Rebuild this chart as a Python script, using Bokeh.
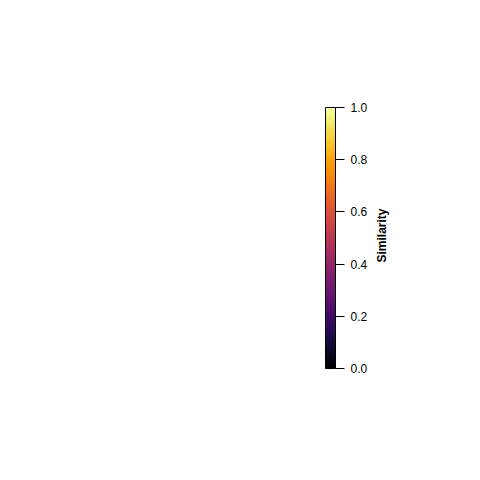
import math
from bokeh.plotting import figure
from bokeh.models import ColorBar, LinearColorMapper, FixedTicker, Range1d
from bokeh.palettes import Inferno256
from bokeh.core.properties import value
from bokeh.embed import file_html
from bokeh.resources import INLINE

# data
scale_low = 0.0
scale_high = 1.0
ticks = [0.0, 0.2, 0.4, 0.6, 0.8, 1.0]
tick_labels = ["0.0", "0.2", "0.4", "0.6", "0.8", "1.0"]
title_text = "Similarity"

p = figure(width=480, height=480, output_backend="svg", toolbar_location=None,
           x_range=Range1d(0, 480), y_range=Range1d(0, 480),
           min_border=0, x_axis_type=None, y_axis_type=None)
p.outline_line_color = None
p.grid.visible = False
p.background_fill_color = "white"
p.border_fill_color = "white"

mapper = LinearColorMapper(palette=Inferno256, low=scale_low, high=scale_high)
cb = ColorBar(color_mapper=mapper, location=(325, 112), width=10, height=261,
              padding=0, margin=0,
              ticker=FixedTicker(ticks=ticks),
              major_label_overrides={t: l for t, l in zip(ticks, tick_labels)},
              major_tick_out=9, major_tick_in=0,
              major_tick_line_color="black", major_tick_line_width=1,
              minor_tick_line_color=None,
              bar_line_color="black", bar_line_width=1,
              label_standoff=6,
              major_label_text_font="Liberation Sans",
              major_label_text_font_size="12px",
              major_label_text_color="black",
              background_fill_alpha=0, border_line_color=None)
p.add_layout(cb, "center")

p.text(x=[381], y=[245], text=[title_text], angle=math.pi / 2,
       text_font=value("Liberation Sans"), text_font_style="bold",
       text_font_size="12px", text_align="center", text_baseline="middle",
       text_color="black")

open("out.html", "w").write(file_html(p, INLINE))
